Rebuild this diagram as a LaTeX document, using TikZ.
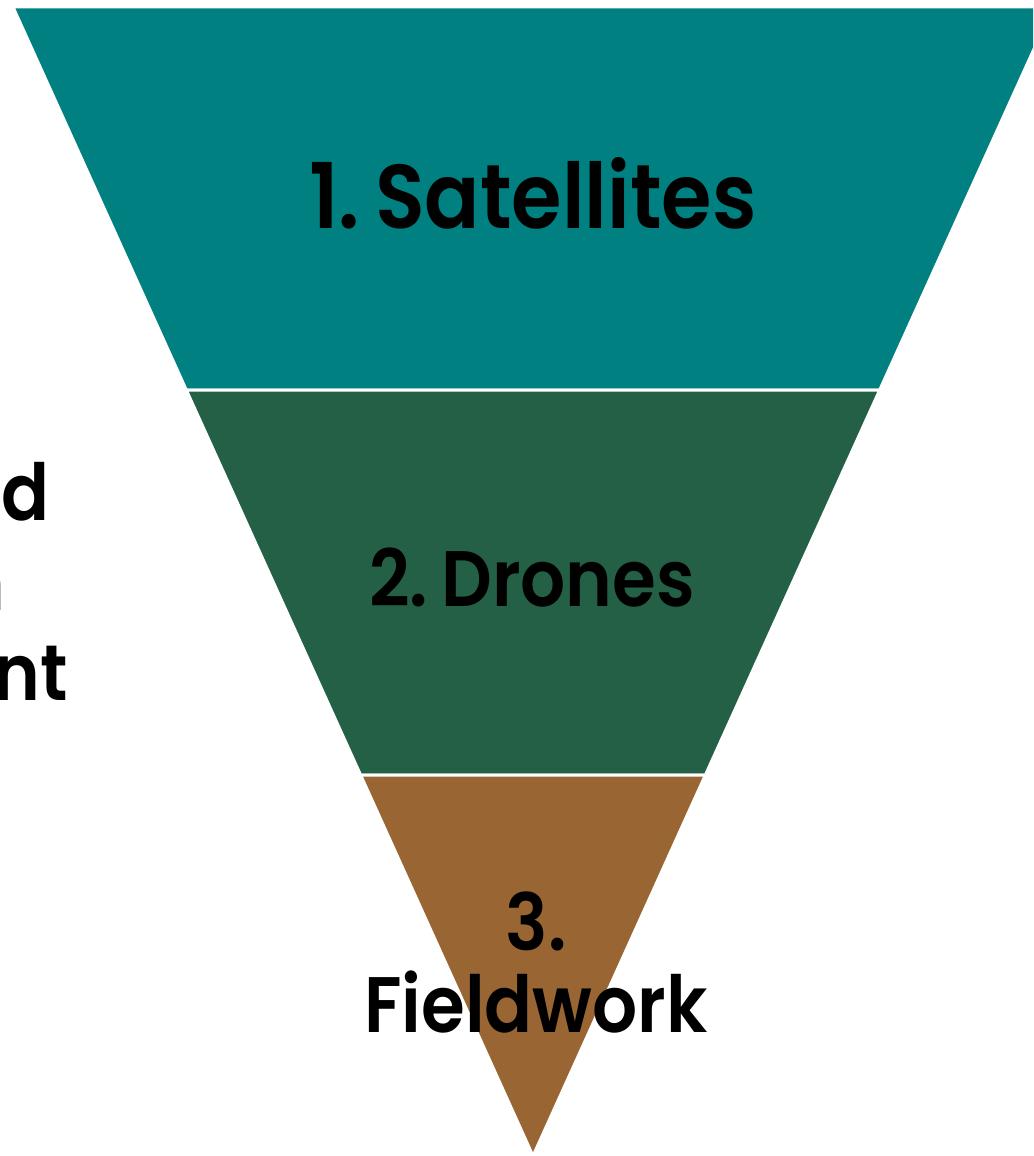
\documentclass[tikz,border=0pt]{standalone}
\usepackage{fontspec}
\setmainfont{Poppins SemiBold}[FakeStretch=0.9]
\usepackage{tikz}
\definecolor{satteal}{RGB}{0,128,128}
\definecolor{dronegreen}{RGB}{35,96,70}
\definecolor{fieldbrown}{RGB}{153,102,51}
\tikzset{
  band/.style={draw=white, line width=2.25pt},
  lbl/.style={anchor=base, text=black, inner sep=0pt, align=center,
    font=\fontsize{59}{61.5}\selectfont},
}

\begin{document}
\begin{tikzpicture}[x=0.75pt, y=-0.75pt]
  \useasboundingbox (0,0) rectangle (1033,1156);
  \clip (0,0) rectangle (1033,1156);
  % funnel, widest band on top
  \path[band, fill=satteal] (13,7) -- (1053,7) -- (879.7,390) -- (186.3,390) -- cycle;
  \path[band, fill=dronegreen] (186.3,390) -- (879.7,390) -- (705.4,775) -- (360.6,775) -- cycle;
  \path[band, fill=fieldbrown] (360.6,775) -- (705.4,775) -- (533,1156) -- cycle;
  \node[lbl, font=\fontsize{68}{84}\selectfont] (sat) at (533,228) {1.\,Satellites};
  \node[lbl] (drn) at (532,606) {2.\,Drones};
  \node[lbl] (fld) at (536,1032) {3.\\Fieldwork};
  % text running in from the left
  \node[lbl, anchor=base east] (l1) at (50,520) {d};
  \node[lbl, anchor=base east] (l2) at (6,610) {n};
  \node[lbl, anchor=base east] (l3) at (68,700) {nt};
\end{tikzpicture}
\end{document}
